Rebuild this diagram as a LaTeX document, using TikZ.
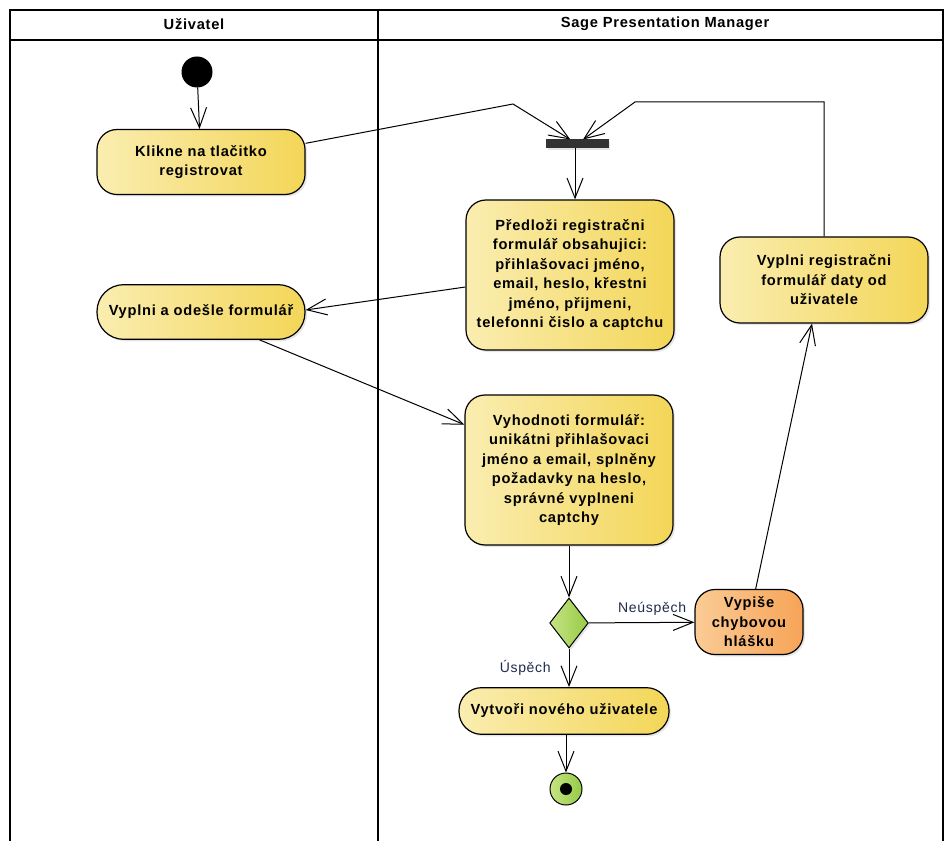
\documentclass[tikz,border=0pt]{standalone}
\usepackage{fontspec}
\setmainfont{Liberation Sans}[LetterSpace=5]
\usetikzlibrary{arrows.meta}
\usetikzlibrary{shapes.geometric}
\usetikzlibrary{shadows}
\usetikzlibrary{positioning}

\definecolor{actL}{HTML}{FAEDB0}
\definecolor{actR}{HTML}{F3D658}
\definecolor{errL}{HTML}{FBCB95}
\definecolor{errR}{HTML}{F6A458}
\definecolor{decL}{HTML}{C6E383}
\definecolor{decR}{HTML}{96CB46}
\definecolor{guardc}{HTML}{1F2A4A}
\definecolor{barc}{HTML}{333333}

\begin{document}
\begin{tikzpicture}[x=0.75pt,y=-0.75pt,line width=0.75pt,
	  >={Straight Barb[length=15pt,width=12pt]},
	  shade/.style={drop shadow={shadow xshift=1.5pt,shadow yshift=-1.5pt,opacity=0.2}},
	  act/.style={rectangle,rounded corners=15pt,draw,line width=0.9pt,left color=actL,right color=actR,shade,
	    font=\bfseries\fontsize{11}{14.6}\selectfont,align=center,inner sep=2pt},
	  err/.style={act,left color=errL,right color=errR},
	  lane/.style={font=\bfseries\fontsize{11}{13}\selectfont},
	  guard/.style={font=\fontsize{10.5}{12}\selectfont,text=guardc},
	  initnode/.style={circle,fill=black,draw,minimum size=22.5pt,inner sep=0pt},
	  finalnode/.style={circle,draw,left color=decL,right color=decR,minimum size=24pt,inner sep=0pt},
	  forkbar/.style={rectangle,fill=barc,draw=barc,minimum width=46.5pt,minimum height=6pt,inner sep=0pt,shade},
	  decision/.style={diamond,draw,left color=decL,right color=decR,minimum width=29pt,minimum height=37.5pt,inner sep=0pt,shade}]
	  \useasboundingbox (0,0) rectangle (945,841);
	  % swimlanes
	  \draw[line width=1pt] (10,841) -- (10,10) -- (943,10) -- (943,841);
	  \draw[line width=1pt] (10,40) -- (943,40);
	  \draw[line width=1pt] (378,10) -- (378,841);
	  \node[lane] (lane1) at (194,24) {Uživatel};
	  \node[lane] (lane2) at (665,24) {Sage Presentation Manager};
%
	  \node[initnode] (start) at (197,72) {};
	  \node[act,minimum width=156pt,minimum height=48.75pt] (klik) at (201,162) {Klikne na tlačitko\\registrovat};
	  \node[forkbar] (fork) at (577,144) {};
	  \node[act,minimum width=156pt,minimum height=112.5pt] (predlozi) at (570,275)
	    {Předloži registračni\\formulář obsahujici:\\přihlašovaci jméno,\\email, heslo, křestni\\jméno, přijmeni,\\telefonni čislo a captchu};
	  \node[act,minimum width=156pt,minimum height=64.5pt] (vyplnireg) at (824,280)
	    {Vyplni registračni\\formulář daty od\\uživatele};
	  \node[act,rounded corners=20pt,minimum width=156pt,minimum height=41pt] (vyplni) at (201,312) {Vyplni a odešle formulář};
	  \node[act,minimum width=156pt,minimum height=112.5pt] (vyhodnoti) at (569,470)
	    {Vyhodnoti formulář:\\unikátni přihlašovaci\\jméno a email, splněny\\požadavky na heslo,\\správné vyplneni\\captchy};
	  \node[decision] (dec) at (569,623) {};
	  \node[err,minimum width=81pt,minimum height=48.75pt] (vypise) at (749,622) {Vypiše\\chybovou\\hlášku};
	  \node[act,rounded corners=17pt,minimum width=157.5pt,minimum height=35pt] (vytvori) at (564,711) {Vytvoři nového uživatele};
	  \node[finalnode] (end) at (566,789) {};
	  \fill (end.center) circle (4.5pt);
%
	  \coordinate (b1) at (513,104);
	  \coordinate (b2) at (824,102);
	  \coordinate (b3) at (635,102);
	  \draw[->] (start) -- (klik);
	  \draw[->] ([yshift=14pt]klik.east) -- (b1) -- ([xshift=-5pt]fork.north);
	  \draw[->] (vyplnireg.north) -- (b2) -- (b3) -- ([xshift=4.5pt]fork.north);
	  \draw[->] ([xshift=-1.5pt]fork.south) -- ([xshift=-1.5pt]fork.south |- predlozi.north);
	  \draw[->] ([yshift=-9pt]predlozi.west) -- ([yshift=1.5pt]vyplni.east);
	  \draw[->] ([xshift=44pt]vyplni.south) -- ([yshift=34pt]vyhodnoti.west);
	  \draw[->] (vyhodnoti) -- (dec);
	  \draw[->] (dec) -- (vypise) node[guard,pos=0.6,above=2pt] {Neúspěch};
	  \draw[->] (dec.south) -- (dec.south |- vytvori.north) node[guard,pos=0.5,left=10pt] {Úspěch};
	  \draw[->] ([xshift=5pt]vypise.north) -- ([xshift=-9pt]vyplnireg.south);
	  \draw[->] (end |- vytvori.south) -- (end);
\end{tikzpicture}
\end{document}
